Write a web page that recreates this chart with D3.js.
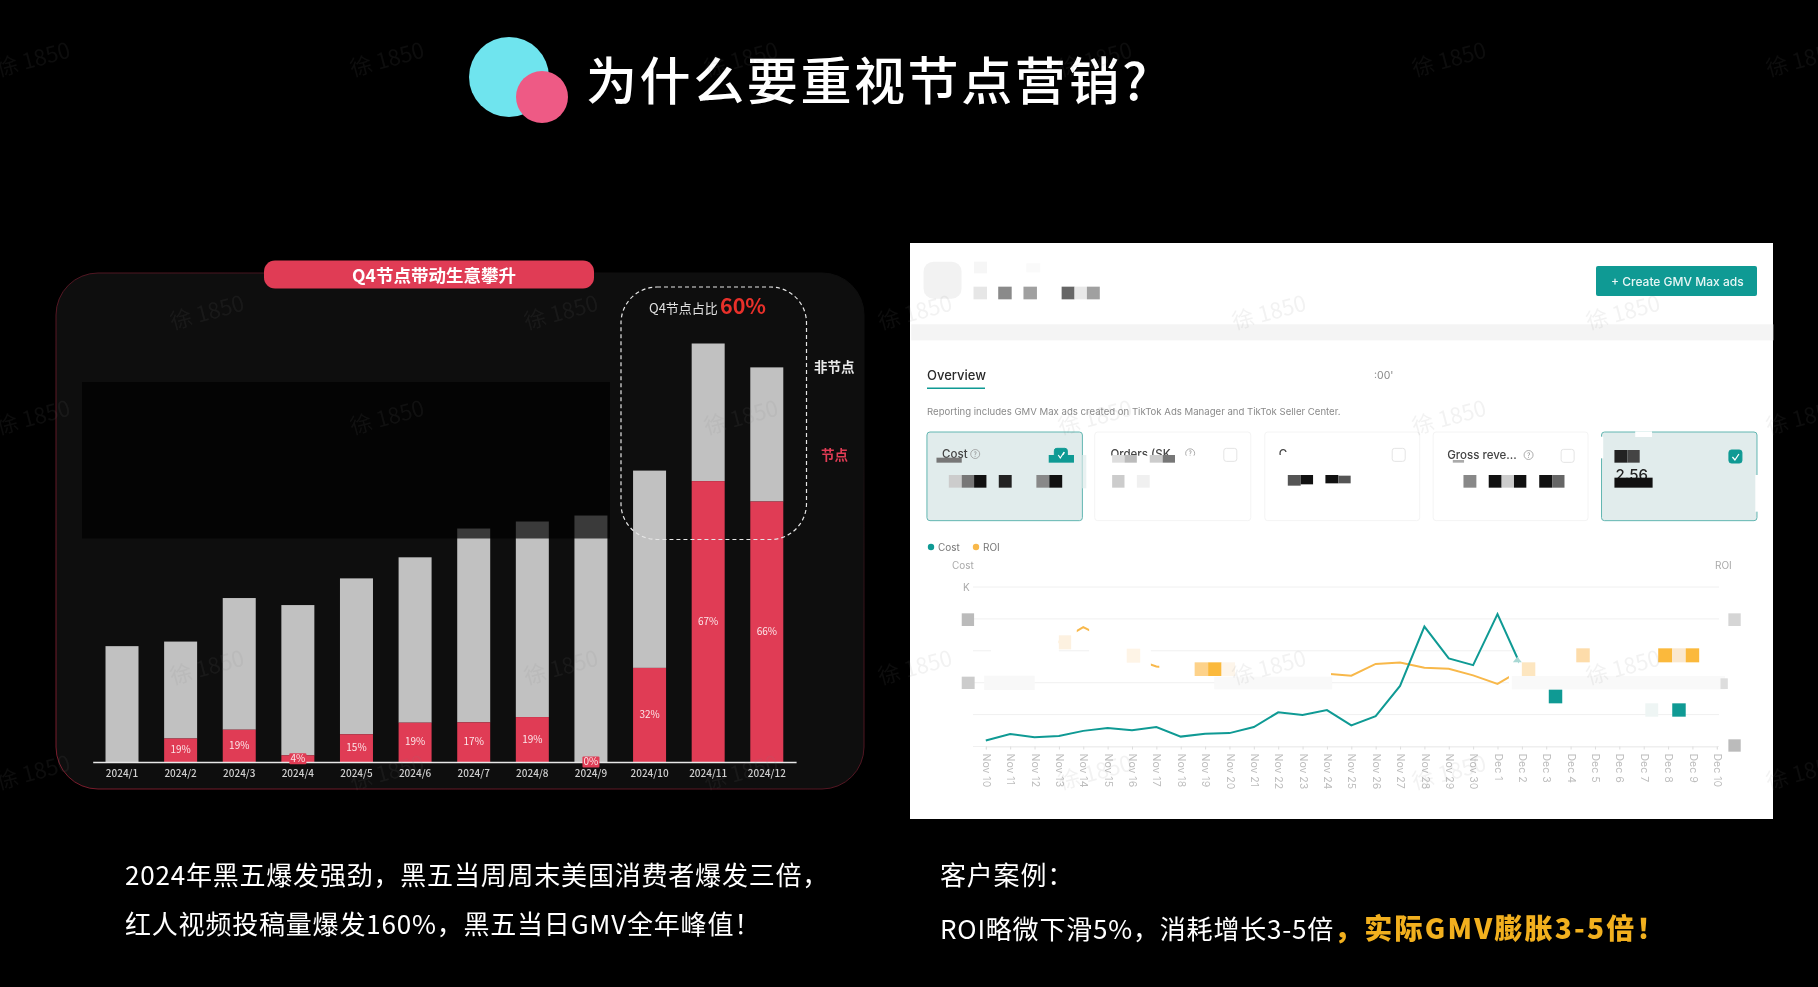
<!DOCTYPE html>
<html>
<head>
<meta charset="utf-8">
<script src="https://cdn.jsdelivr.net/npm/d3@7"></script>
<style>
  html, body { margin: 0; padding: 0; background: #000; overflow: hidden; }
  svg { display: block; font-family: "Noto Sans CJK SC", "Noto Sans", sans-serif; filter: blur(0.4px); }
</style>
</head>
<body>
<svg width="1818" height="987"></svg>
<script>
// left chart
const months = ["2024/1", "2024/2", "2024/3", "2024/4", "2024/5", "2024/6", "2024/7", "2024/8", "2024/9", "2024/10", "2024/11", "2024/12"];
const nodeValues = [0, 67, 92, 19, 79, 112, 113, 128, 0, 268, 800, 742];
const nonNodeValues = [330, 276, 375, 428, 444, 471, 552, 557, 702, 562, 392, 382];
const nodeLabels = ["", "19%", "19%", "4%", "15%", "19%", "17%", "19%", "0%", "32%", "67%", "66%"];

// right chart
const dates = ["Nov 10", "Nov 11", "Nov 12", "Nov 13", "Nov 14", "Nov 15", "Nov 16", "Nov 17", "Nov 18", "Nov 19", "Nov 20", "Nov 21", "Nov 22", "Nov 23", "Nov 24", "Nov 25", "Nov 26", "Nov 27", "Nov 28", "Nov 29", "Nov 30", "Dec 1", "Dec 2", "Dec 3", "Dec 4", "Dec 5", "Dec 6", "Dec 7", "Dec 8", "Dec 9", "Dec 10"];
const costValues = [0.19, 0.39, 0.29, 0.33, 0.49, 0.58, 0.51, 0.61, 0.31, 0.40, 0.42, 0.61, 1.07, 0.99, 1.14, 0.66, 0.95, 1.90, 3.76, 2.76, 2.55, 4.15, 2.46];
const roiValues = [1.80, 2.20, 2.62, 3.29, 3.74, 3.35, 2.77, 2.51, 2.43, 2.43, 2.41, 2.35, 2.30, 2.30, 2.28, 2.22, 2.59, 2.63, 2.47, 2.44, 2.23, 1.96, 2.41];
const gridTicks = [0, 1, 2, 3, 4, 5];

// watermark grid
const markColsA = [35, 389, 743, 1097, 1451, 1805];
const markColsB = [209, 563, 917, 1271, 1625];
const markRowsA = [67, 425, 780];
const markRowsB = [320, 675];

const svg = d3.select("svg");
const TEAL = "#0f9a94", AMBER = "#f8b84a", RED = "#e03c55";

// title
svg.append("circle").attr("cx", 509).attr("cy", 77).attr("r", 40).attr("fill", "#6fe4ee");
svg.append("circle").attr("cx", 542).attr("cy", 97).attr("r", 26).attr("fill", "#ee5a85");
svg.append("text").attr("x", 586).attr("y", 100).attr("font-size", 51).attr("font-weight", 500).attr("letter-spacing", 2.6)
  .attr("fill", "#fff").text("为什么要重视节点营销?");

// left panel
const defs = svg.append("defs");
const grad = defs.append("linearGradient").attr("id", "edge")
  .attr("x1", 0).attr("y1", 1).attr("x2", 1).attr("y2", 0);
grad.append("stop").attr("offset", "0%").attr("stop-color", "#7a1c2c");
grad.append("stop").attr("offset", "60%").attr("stop-color", "#4a1520");
grad.append("stop").attr("offset", "85%").attr("stop-color", "#0e0e0e");

svg.append("rect").attr("x", 56).attr("y", 273).attr("width", 808).attr("height", 516)
  .attr("rx", 42).attr("fill", "#0e0e0e").attr("stroke", "url(#edge)");

const x = d3.scaleBand().domain(months).range([92.7, 796.1]).paddingInner(0.437).paddingOuter(0.2185);
const y = d3.scaleLinear().domain([0, 1192]).range([762, 343.5]);

const stacked = d3.stack().keys([0, 1]).value((d, k) => k === 0 ? nodeValues[d] : nonNodeValues[d])(d3.range(months.length));

svg.append("g").selectAll("rect").data(stacked[1]).enter().append("rect")
  .attr("x", (d, i) => x(months[i])).attr("width", x.bandwidth())
  .attr("y", d => y(d[1])).attr("height", d => y(d[0]) - y(d[1])).attr("fill", "#c1c1c1");
svg.append("g").selectAll("rect").data(stacked[0]).enter().append("rect")
  .attr("x", (d, i) => x(months[i])).attr("width", x.bandwidth())
  .attr("y", d => y(d[1])).attr("height", d => y(d[0]) - y(d[1])).attr("fill", RED);

// dark sheet lying over the upper part of the chart
svg.append("rect").attr("x", 82).attr("y", 382).attr("width", 528).attr("height", 156.5)
  .attr("fill", "#000").attr("opacity", 0.7);

const xAxis = svg.append("g").attr("transform", "translate(0,762)").call(d3.axisBottom(x).tickSize(0).tickPadding(8));
xAxis.select(".domain").attr("stroke", "#e8e8e8").attr("stroke-width", 1.5);
xAxis.selectAll("text").attr("fill", "#d0d0d0").attr("font-size", 10).attr("font-weight", 500)
  .attr("font-family", '"Noto Sans CJK SC", sans-serif');

// small values get a red tag of their own
const tagged = ["4%", "0%"];
const labels = svg.append("g").selectAll("g").data(nodeLabels.map((t, i) => ({ t, i })).filter(d => d.t)).enter().append("g")
  .attr("transform", d => `translate(${x(months[d.i]) + x.bandwidth() / 2},${y(nodeValues[d.i] / 2)})`);
labels.filter(d => tagged.includes(d.t)).append("rect")
  .attr("x", -8.5).attr("y", -5.5).attr("width", 17).attr("height", 11).attr("rx", 1).attr("fill", RED);
labels.append("text").attr("text-anchor", "middle").attr("dy", "0.3em").attr("font-size", 10)
  .attr("fill", "#fbe6e9").text(d => d.t);

// pill, dashed box, side labels
svg.append("rect").attr("x", 264).attr("y", 260.5).attr("width", 330).attr("height", 28).attr("rx", 11).attr("fill", RED);
svg.append("text").attr("x", 434).attr("y", 282).attr("text-anchor", "middle").attr("font-size", 17.5)
  .attr("font-weight", 700).attr("fill", "#fff").text("Q4节点带动生意攀升");
svg.append("rect").attr("x", 621).attr("y", 287).attr("width", 185.5).attr("height", 252.5).attr("rx", 36)
  .attr("fill", "none").attr("stroke", "#e6e6e6").attr("stroke-width", 1.2).attr("stroke-dasharray", "4 3");
svg.append("text").attr("x", 649).attr("y", 313).attr("font-size", 13).attr("fill", "#e0e0e0").text("Q4节点占比");
svg.append("text").attr("x", 720).attr("y", 313.5).attr("font-size", 21.5).attr("font-weight", 700)
  .attr("fill", "#e8302a").text("60%");
svg.append("text").attr("x", 814).attr("y", 372).attr("font-size", 13.5).attr("font-weight", 700).attr("fill", "#e8e8e8").text("非节点");
svg.append("text").attr("x", 821).attr("y", 460).attr("font-size", 13.5).attr("font-weight", 700).attr("fill", RED).text("节点");

// right panel, a blurred dashboard screenshot
svg.append("rect").attr("x", 910).attr("y", 243).attr("width", 863).attr("height", 576).attr("fill", "#fff");

// crop coordinates -> page
const sx = z => 900 + z * 880 / 1568;
const topY = z => 235 + z / 3;
const lowY = z => 530 + z / 3;

function block(g, x0, x1, y0, y1, fill, rows) {
  g.append("rect").attr("x", sx(x0)).attr("width", sx(x1) - sx(x0))
    .attr("y", rows(y0)).attr("height", rows(y1) - rows(y0)).attr("fill", fill);
}

const head = svg.append("g");
block(head, 20, 1556, 268, 316, "#f4f4f4", topY);
head.append("rect").attr("x", sx(42)).attr("y", topY(80)).attr("width", 38).attr("height", 37).attr("rx", 10).attr("fill", "#f2f2f2");
[[132, 155, 80, 115, "#f6f6f6"], [225, 250, 85, 112, "#fafafa"],
 [131, 155, 155, 193, "#e6e6e6"], [175, 199, 155, 193, "#8a8a8a"], [220, 244, 155, 193, "#a0a0a0"],
 [288, 311, 155, 193, "#666"], [311, 333, 155, 193, "#e8e8e8"], [333, 356, 155, 193, "#a0a0a0"]]
  .forEach(b => block(head, b[0], b[1], b[2], b[3], b[4], topY));

head.append("rect").attr("x", 1596).attr("y", 266).attr("width", 161).attr("height", 30).attr("rx", 2).attr("fill", TEAL);
head.append("text").attr("x", 1611).attr("y", 285.5).attr("font-size", 12).attr("font-weight", 500)
  .attr("font-family", "Inter, sans-serif").attr("fill", "#e8f6f5").text("+ Create GMV Max ads");
head.append("text").attr("x", 927).attr("y", 380).attr("font-size", 13).attr("font-weight", 500)
  .attr("font-family", "Inter, sans-serif").attr("fill", "#2a2a2a").text("Overview");
head.append("rect").attr("x", 927).attr("y", 387.5).attr("width", 58).attr("height", 1.5).attr("fill", TEAL);
head.append("text").attr("x", 1374).attr("y", 379).attr("font-size", 10.5).attr("font-family", "Inter, sans-serif")
  .attr("fill", "#888").text(":00'");
head.append("text").attr("x", 927).attr("y", 414.5).attr("font-size", 9.6).attr("font-family", "Inter, sans-serif")
  .attr("fill", "#8a8a8a").text("Reporting includes GMV Max ads created on TikTok Ads Manager and TikTok Seller Center.");

// metric cards
const cards = [[48, 325, true], [347, 625, false], [650, 926, false], [950, 1226, false], [1250, 1527, true]];
const cardG = svg.append("g");
cardG.selectAll("rect").data(cards).enter().append("rect")
  .attr("x", d => sx(d[0])).attr("width", d => sx(d[1]) - sx(d[0]))
  .attr("y", topY(591)).attr("height", topY(857) - topY(591)).attr("rx", 3)
  .attr("fill", d => d[2] ? "#e1ecec" : "#fff")
  .attr("stroke", d => d[2] ? "#62b6b1" : "#f4f4f4");

function cardText(g, zx, zy, t) {
  g.append("text").attr("x", sx(zx)).attr("y", topY(zy)).attr("font-size", 11.5)
    .attr("font-family", "Inter, sans-serif").attr("font-weight", 500).attr("fill", "#444").text(t);
}
function hint(g, zx, zy) {
  g.append("circle").attr("cx", sx(zx)).attr("cy", topY(zy)).attr("r", 4.5).attr("fill", "none").attr("stroke", "#999").attr("stroke-width", 0.8);
  g.append("text").attr("x", sx(zx)).attr("y", topY(zy) + 2.5).attr("text-anchor", "middle").attr("font-size", 7).attr("fill", "#888").text("?");
}
function box(g, zx, zy, checked) {
  g.append("rect").attr("x", sx(zx)).attr("y", topY(zy)).attr("width", 13).attr("height", 13).attr("rx", 2.5)
    .attr("fill", checked ? TEAL : "#fff").attr("stroke", checked ? TEAL : "#e4e4e4");
  if (checked) g.append("path").attr("d", `M${sx(zx) + 3.5},${topY(zy) + 7} l2.5,3 l4,-6`).attr("fill", "none").attr("stroke", "#fff").attr("stroke-width", 1.3);
}

cardText(cardG, 75, 670, "Cost");
hint(cardG, 134, 657);
cardText(cardG, 375, 668, "Orders (SK");
hint(cardG, 517, 655);
cardText(cardG, 675, 668, "C");
box(cardG, 577, 640, false);
box(cardG, 877, 640, false);
cardText(cardG, 975, 672, "Gross reve...");
hint(cardG, 1120, 660);
box(cardG, 1178, 643, false);

// white strips the screenshot was retouched with
[[355, 570, 662, 690], [660, 870, 660, 700], [975, 1180, 680, 690], [1248, 1253, 605, 670], [1524, 1530, 720, 830], [1310, 1340, 589, 606]]
  .forEach(b => block(cardG, b[0], b[1], b[2], b[3], "#fff", topY));
block(cardG, 325, 332, 660, 760, "#e9f1f1", topY);

cardG.append("text").attr("x", sx(1275)).attr("y", topY(735)).attr("font-size", 15).attr("font-weight", 500)
  .attr("font-family", "Inter, sans-serif").attr("fill", "#222").text("2.56");
box(cardG, 275, 640, true);
box(cardG, 1477, 645, true);
[[65, 110, 668, 683, "#777"], [265, 310, 660, 683, TEAL],
 [87, 110, 720, 758, "#ccc"], [110, 132, 720, 758, "#777"], [132, 154, 720, 758, "#111"],
 [176, 199, 720, 758, "#222"], [243, 266, 720, 758, "#888"], [266, 289, 720, 758, "#111"],
 [378, 400, 660, 683, "#ddd"], [400, 422, 660, 683, "#bbb"], [445, 468, 660, 683, "#ccc"], [468, 490, 660, 683, "#777"],
 [378, 400, 720, 758, "#ccc"], [422, 445, 720, 758, "#f0f0f0"],
 [691, 714, 720, 752, "#555"], [714, 736, 720, 748, "#111"], [758, 781, 720, 745, "#111"], [781, 803, 722, 745, "#555"],
 [985, 1005, 675, 683, "#aaa"], [1004, 1027, 720, 758, "#888"], [1049, 1072, 720, 758, "#111"], [1072, 1094, 720, 758, "#ccc"],
 [1094, 1116, 720, 758, "#111"], [1139, 1162, 720, 758, "#111"], [1162, 1184, 720, 758, "#666"],
 [1273, 1296, 645, 683, "#222"], [1296, 1318, 645, 683, "#444"], [1273, 1341, 728, 758, "#111"]]
  .forEach(b => block(cardG, b[0], b[1], b[2], b[3], b[4], topY));
// the check on card one sits over its teal smear
cardG.append("path").attr("d", `M${sx(282)},${topY(660)} l2,3 l4,-6`).attr("fill", "none").attr("stroke", "#fff").attr("stroke-width", 1.2);

// line chart
const lx = d3.scalePoint().domain(dates).range([985.8, 1716.8]);
const ly = d3.scaleLinear().domain([0, 5]).range([746.5, 587]);

const lineG = svg.append("g");
lineG.append("circle").attr("cx", 931).attr("cy", 547).attr("r", 3.2).attr("fill", TEAL);
lineG.append("text").attr("x", 938).attr("y", 550.5).attr("font-size", 10).attr("font-family", "Inter, sans-serif").attr("fill", "#777").text("Cost");
lineG.append("circle").attr("cx", 976).attr("cy", 547).attr("r", 3.2).attr("fill", AMBER);
lineG.append("text").attr("x", 983).attr("y", 550.5).attr("font-size", 10).attr("font-family", "Inter, sans-serif").attr("fill", "#777").text("ROI");
lineG.append("text").attr("x", 952).attr("y", 568.5).attr("font-size", 10).attr("font-family", "Inter, sans-serif").attr("fill", "#aaa").text("Cost");
lineG.append("text").attr("x", 1715).attr("y", 568.5).attr("font-size", 10).attr("font-family", "Inter, sans-serif").attr("fill", "#aaa").text("ROI");
lineG.append("text").attr("x", 963).attr("y", 591).attr("font-size", 10).attr("font-family", "Inter, sans-serif").attr("fill", "#aaa").text("K");

lineG.append("g").selectAll("line").data(gridTicks).enter().append("line")
  .attr("x1", 973).attr("x2", 1719).attr("y1", d => ly(d)).attr("y2", d => ly(d))
  .attr("stroke", "#f0f0f0");

const dateAxis = lineG.append("g").attr("transform", "translate(0,746.5)")
  .call(d3.axisBottom(lx).tickSize(3).tickPadding(4));
dateAxis.select(".domain").attr("stroke", "#eee");
dateAxis.selectAll(".tick line").attr("stroke", "#ddd");
dateAxis.selectAll("text").attr("transform", "rotate(90)").attr("text-anchor", "start")
  .attr("x", 7).attr("y", 0).attr("dy", "0.32em").attr("fill", "#bdbdbd").attr("font-size", 10.5)
  .attr("font-family", "Inter, sans-serif");

const drawLine = (vals, color) => lineG.append("path").datum(vals)
  .attr("d", d3.line().x((d, i) => lx(dates[i])).y(d => ly(d)))
  .attr("fill", "none").attr("stroke", color).attr("stroke-width", 2);
drawLine(roiValues, AMBER);
drawLine(costValues, TEAL);

// retouching over the chart: white covers, soft bands, then the mosaic squares
[[162, 283, 275, 452], [283, 315, 275, 358], [337, 447, 275, 452], [462, 768, 380, 452],
 [1085, 1110, 400, 480], [1102, 1474, 275, 438]]
  .forEach(b => block(lineG, b[0], b[1], b[2], b[3], "#fff", lowY));
[[150, 240, 437, 480, "#f8f8f8"], [560, 770, 440, 478, "#f9f9f9"], [1090, 1470, 438, 478, "#f9f9f9"]]
  .forEach(b => block(lineG, b[0], b[1], b[2], b[3], b[4], lowY));
[[283, 305, 316, 358, "#fdf1e0"], [404, 428, 356, 398, "#fef4e6"], [525, 549, 397, 438, "#fdd28a"],
 [549, 573, 397, 438, "#fbb93c"], [573, 597, 397, 438, "#fdf5ea"], [1108, 1132, 397, 438, "#fde6c0"],
 [1156, 1180, 479, 520, TEAL], [1205, 1229, 355, 397, "#fddcaa"], [1351, 1376, 355, 397, "#fbb93c"],
 [1376, 1400, 355, 397, "#fae8cf"], [1400, 1424, 355, 397, "#fbb93c"], [1328, 1351, 520, 560, "#eef5f4"],
 [1376, 1400, 520, 560, TEAL], [110, 132, 250, 288, "#bbb"], [110, 133, 440, 477, "#ccc"],
 [1476, 1498, 250, 288, "#d5d5d5"], [1462, 1475, 445, 477, "#ddd"], [1476, 1498, 628, 665, "#bbb"]]
  .forEach(b => block(lineG, b[0], b[1], b[2], b[3], b[4], lowY));
lineG.append("path").attr("d", `M${sx(1092)},${lowY(397)} L${sx(1100)},${lowY(380)} L${sx(1108)},${lowY(397)} Z`).attr("fill", "#a8d8d4");

// captions
const caption = svg.append("g").attr("font-size", 26).attr("fill", "#fff").attr("letter-spacing", 0.8);
caption.append("text").attr("x", 125).attr("y", 885).text("2024年黑五爆发强劲，黑五当周周末美国消费者爆发三倍，");
caption.append("text").attr("x", 125).attr("y", 934).text("红人视频投稿量爆发160%，黑五当日GMV全年峰值！");
caption.append("text").attr("x", 940).attr("y", 885).text("客户案例：");
const caseLine = caption.append("text").attr("x", 940).attr("y", 939);
caseLine.append("tspan").text("ROI略微下滑5%，消耗增长3-5倍");
caseLine.append("tspan").attr("fill", "#f2b01e").attr("font-weight", 900).attr("font-size", 28).attr("letter-spacing", 2.2).text("，实际GMV膨胀3-5倍！");

// watermark on top of everything
const marks = [];
markRowsA.forEach(r => markColsA.forEach(c => marks.push([c, r])));
markRowsB.forEach(r => markColsB.forEach(c => marks.push([c, r])));
svg.append("g").selectAll("text").data(marks).enter().append("text")
  .attr("transform", d => `translate(${d[0]},${d[1]}) rotate(-15)`)
  .attr("text-anchor", "middle").attr("font-size", 22)
  .attr("fill", "#808080").attr("fill-opacity", 0.1).text("徐 1850");
</script>
</body>
</html>
